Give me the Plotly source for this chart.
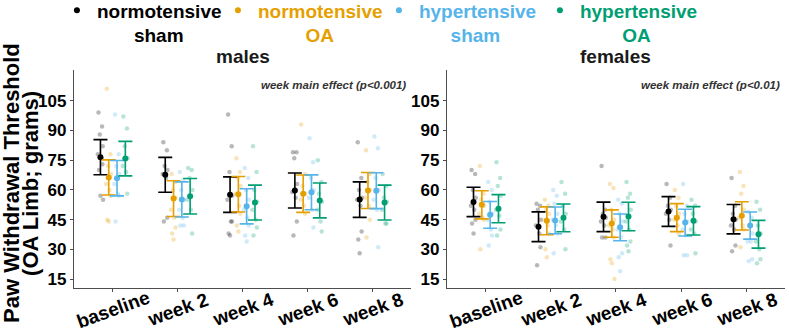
import plotly.graph_objects as go

weeks = ["baseline", "week 2", "week 4", "week 6", "week 8"]
group_line1 = ["normotensive", "normotensive", "hypertensive", "hypertensive"]
group_line2 = ["sham", "OA", "sham", "OA"]
colors = ["#000000", "#E69F00", "#56B4E9", "#009E73"]
point_colors = ["rgba(0,0,0,0.28)", "rgba(230,159,0,0.28)", "rgba(86,180,233,0.28)", "rgba(0,158,115,0.28)"]

# ---- males: means and error half-widths (grams) ----
males_mean_ns = [76.5, 67.6, 57.6, 59.7, 55.1]
males_mean_no = [66.3, 55.6, 57.8, 58.1, 59.7]
males_mean_hs = [65.9, 55.2, 51.7, 58.8, 59.6]
males_mean_ho = [75.8, 56.8, 53.6, 54.7, 53.6]
males_err_ns = [8.85, 8.8, 8.95, 8.85, 8.95]
males_err_no = [8.85, 9.0, 8.95, 9.45, 9.1]
males_err_hs = [8.9, 8.85, 8.85, 8.8, 9.05]
males_err_ho = [8.7, 8.95, 8.8, 8.8, 8.8]

# ---- females ----
females_mean_ns = [53.9, 41.4, 46.4, 49.1, 45.2]
females_mean_no = [52.5, 44.4, 43.0, 46.0, 46.9]
females_mean_hs = [47.4, 44.6, 41.1, 43.5, 42.0]
females_mean_ho = [50.5, 45.9, 46.6, 44.4, 37.6]
females_err_ns = [7.4, 7.5, 7.45, 7.5, 7.4]
females_err_no = [7.1, 7.05, 6.9, 7.05, 7.15]
females_err_hs = [6.75, 6.75, 6.75, 6.75, 6.85]
females_err_ho = [7.1, 7.0, 7.2, 7.15, 7.0]

# ---- individual animals (grams), one list per week ----
males_pts_ns = [[99, 92, 88, 82, 78, 76, 73, 70, 57, 55], [84, 80, 72, 70, 68, 66, 46, 44],
                [98, 82, 69, 57, 55, 44, 44, 38, 37], [79, 79, 76, 63, 59, 56, 44, 37],
                [84, 66, 60, 56, 55, 52, 39, 35, 28]]
males_pts_no = [[111, 78, 72, 68, 63, 60, 57, 45, 44], [68, 64, 60, 56, 50, 46, 41, 38, 35],
                [76, 69, 66, 62, 58, 52, 48, 42, 39], [93, 68, 62, 58, 55, 52, 48],
                [80, 68, 64, 60, 56, 52, 45, 36]]
males_pts_hs = [[98, 78, 72, 68, 63, 58, 57, 44], [69, 65, 60, 55, 50, 46, 42, 42],
                [71, 66, 60, 55, 50, 46, 42, 37, 34], [86, 74, 66, 60, 56, 50, 41],
                [87, 81, 66, 60, 55, 50, 31]]
males_pts_ho = [[97, 91, 82, 76, 72, 69, 58], [71, 70, 66, 60, 55, 50, 38],
                [82, 69, 60, 54, 50, 45, 41, 37], [75, 64, 58, 54, 50, 44, 39],
                [68, 62, 56, 54, 50, 43, 43]]
females_pts_ns = [[70, 68, 60, 56, 52, 50, 45, 43, 38], [53, 52, 50, 45, 42, 38, 31, 22],
                  [72, 50, 48, 46, 44, 42, 36, 36], [63, 56, 52, 50, 48, 45, 32],
                  [66, 52, 48, 45, 42, 40, 32, 29]]
females_pts_no = [[72, 58, 55, 52, 48, 46, 45, 30], [55, 52, 50, 48, 45, 42, 38, 30, 26],
                  [63, 61, 50, 45, 42, 40, 36, 25, 23, 15], [60, 56, 52, 48, 45, 42, 38],
                  [69, 62, 58, 50, 46, 42, 40, 31]]
females_pts_hs = [[64, 60, 54, 48, 45, 40, 37, 32], [60, 57, 53, 48, 45, 42, 38, 28],
                  [55, 53, 48, 44, 40, 36, 28, 26, 19], [63, 52, 48, 44, 40, 37, 27, 27],
                  [49, 46, 42, 38, 34, 34, 25, 24]]
females_pts_ho = [[74, 66, 62, 57, 50, 47, 40, 37], [64, 58, 52, 48, 44, 40, 30],
                  [64, 58, 56, 50, 44, 40, 34, 32, 29], [55, 52, 48, 44, 40, 38, 28],
                  [54, 50, 42, 38, 34, 30, 25, 23]]

y_ticks = [15, 30, 45, 60, 75, 90, 105]

# ---- style / layout constants ----
DODGE = [-0.192, -0.064, 0.064, 0.192]
JITTER = [-0.03, 0.025, -0.01, 0.035, -0.04, 0.012, 0.03, -0.022, 0.0, 0.04]
LINE2_PAD = [7, 9, 6, 8]  # non-breaking spaces to centre the second legend line
FONT = "Liberation Sans, Arial, sans-serif"

panels = [
    ("x", "y", [males_mean_ns, males_mean_no, males_mean_hs, males_mean_ho],
     [males_err_ns, males_err_no, males_err_hs, males_err_ho],
     [males_pts_ns, males_pts_no, males_pts_hs, males_pts_ho], True),
    ("x2", "y2", [females_mean_ns, females_mean_no, females_mean_hs, females_mean_ho],
     [females_err_ns, females_err_no, females_err_hs, females_err_ho],
     [females_pts_ns, females_pts_no, females_pts_hs, females_pts_ho], False),
]

fig = go.Figure()
pos = list(range(1, len(weeks) + 1))

# raw points first
for xa, ya, means, errs, pts, _ in panels:
    for g in range(4):
        xs, ys = [], []
        for i, wk in enumerate(pts[g]):
            for j, v in enumerate(wk):
                xs.append(pos[i] + DODGE[g] + JITTER[j % len(JITTER)])
                ys.append(v)
        fig.add_trace(go.Scatter(x=xs, y=ys, mode="markers", xaxis=xa, yaxis=ya,
                                 marker=dict(size=4.5, color=point_colors[g]),
                                 showlegend=False, hoverinfo="y"))

# means with error bars
for xa, ya, means, errs, pts, show in panels:
    for g in range(4):
        name = ("<span style='color:%s'>%s<br>%s%s</span>"
                % (colors[g], group_line1[g], "\u00a0" * LINE2_PAD[g], group_line2[g]))
        fig.add_trace(go.Scatter(
            x=[p + DODGE[g] for p in pos], y=means[g], mode="markers",
            xaxis=xa, yaxis=ya, name=name, showlegend=show, legendrank=g,
            marker=dict(size=6, color=colors[g]),
            error_y=dict(type="data", array=errs[g], visible=True,
                         color=colors[g], thickness=1.6, width=7)))

axis_common = dict(showline=True, linecolor="#4d4d4d", linewidth=1.3, ticks="outside",
                   ticklen=3, tickwidth=1.3, tickcolor="#4d4d4d", showgrid=False,
                   zeroline=False, mirror=False)
xdom1 = [0.0, 0.474]
xdom2 = [0.5246, 1.0]
fig.update_layout(
    width=789, height=330,
    margin=dict(l=74, r=4, t=70, b=42, autoexpand=False),
    paper_bgcolor="white", plot_bgcolor="white",
    font=dict(family=FONT, color="black"),
    xaxis=dict(domain=xdom1, anchor="y", range=[0.4, 5.6], tickvals=pos,
               showticklabels=False, **axis_common),
    xaxis2=dict(domain=xdom2, anchor="y2", range=[0.4, 5.6], tickvals=pos,
                showticklabels=False, **axis_common),
    yaxis=dict(anchor="x", range=[10.5, 120.5], tickvals=y_ticks,
               tickfont=dict(size=17, weight="bold", color="black"), **axis_common),
    yaxis2=dict(anchor="x2", range=[10.5, 120.5], tickvals=y_ticks,
                tickfont=dict(size=17, weight="bold", color="black"), **axis_common),
    legend=dict(orientation="h", x=-0.024, y=1.36, xanchor="left", yanchor="top",
                font=dict(size=19, weight="bold", family=FONT), valign="top",
                entrywidth=116, entrywidthmode="pixels", itemwidth=30,
                bgcolor="rgba(0,0,0,0)"),
    showlegend=True,
)

annotations = []
for xa, dom, title, effect in [("x", xdom1, "males", "week main effect (p&lt;0.001)"),
                               ("x2", xdom2, "females", "week main effect (p&lt;0.01)")]:
    for i, w in enumerate(weeks):
        annotations.append(dict(x=pos[i], xref=xa, y=-0.097, yref="paper", text=w,
                                textangle=-20, showarrow=False, xanchor="center",
                                yanchor="middle",
                                font=dict(size=19, weight="bold", color="black")))
    annotations.append(dict(x=(dom[0] + dom[1]) / 2, xref="paper", y=1.06, yref="paper",
                            text=title, showarrow=False, xanchor="center", yanchor="middle",
                            font=dict(size=19, weight="bold", color="#1a1a1a")))
    annotations.append(dict(x=dom[1] - 0.004, xref="paper", y=0.931, yref="paper",
                            text="<i>%s</i>" % effect, showarrow=False, xanchor="right",
                            yanchor="middle",
                            font=dict(size=11.5, weight="bold", color="#333333")))

annotations.append(dict(x=-0.0872, xref="paper", y=0.482, yref="paper",
                        text="Paw Withdrawal Threshold", textangle=-90, showarrow=False,
                        xanchor="center", yanchor="middle",
                        font=dict(size=22, weight="bold", color="black")))
annotations.append(dict(x=-0.0605, xref="paper", y=0.482, yref="paper",
                        text="(OA Limb; grams)", textangle=-90, showarrow=False,
                        xanchor="center", yanchor="middle",
                        font=dict(size=22, weight="bold", color="black")))
fig.update_layout(annotations=annotations)

fig.write_html("out.html", config={"displayModeBar": False},
               post_script="document.body.style.margin='0';document.body.style.overflow='hidden';")
